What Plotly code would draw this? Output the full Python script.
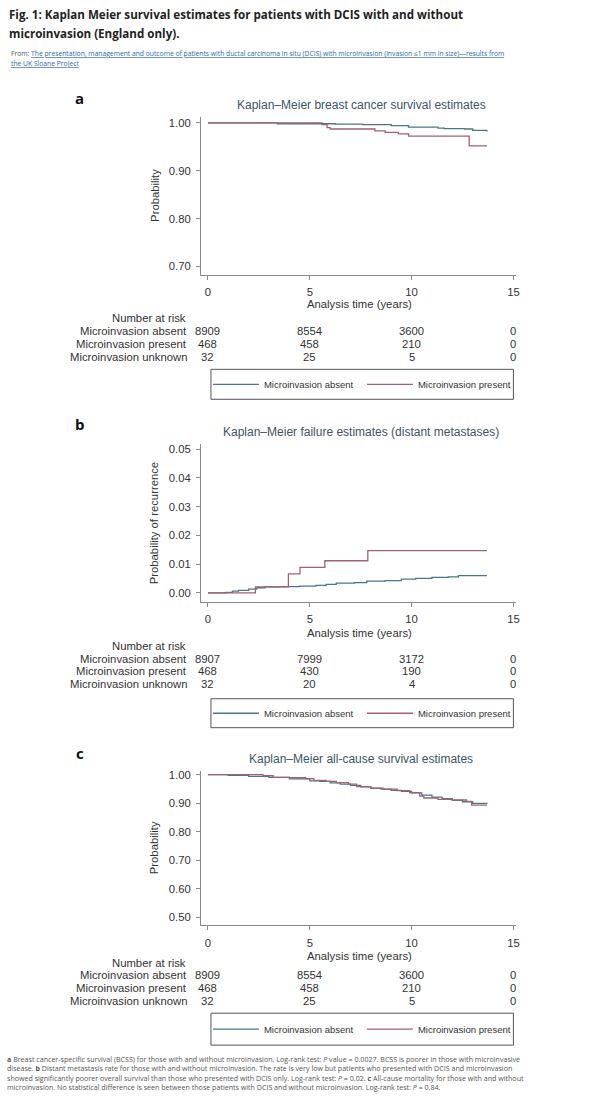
import plotly.graph_objects as go

W, H = 600, 1118
def px(x): return x / W
def py(y): return 1 - y / H

# ---------------- data ----------------
time_ticks = [0, 5, 10, 15]
group_names = ["Microinvasion absent", "Microinvasion present"]
risk_labels = ["Microinvasion absent", "Microinvasion present", "Microinvasion unknown"]

# panel a: breast cancer survival
a_abs_t = [0, 3.4, 6.25, 7.6, 9.0, 9.85, 11.3, 11.6, 12.6, 13.0, 13.7]
a_abs_s = [1.0, 0.998, 0.997, 0.996, 0.994, 0.991, 0.989, 0.988, 0.987, 0.984, 0.982]
a_pre_t = [0, 5.6, 5.85, 6.0, 8.2, 8.7, 9.35, 9.85, 12.83, 13.7]
a_pre_s = [1.0, 0.996, 0.990, 0.987, 0.983, 0.980, 0.977, 0.972, 0.952, 0.952]
risk_a_abs = [8909, 8554, 3600, 0]
risk_a_pre = [468, 458, 210, 0]
risk_a_unk = [32, 25, 5, 0]

# panel b: failure (distant metastases)
b_abs_t = [0, 0.9, 1.2, 1.5, 2.0, 2.4, 2.8, 3.5, 4.5, 5.3, 5.8, 6.3, 7.2, 7.8, 8.7, 9.5, 10.2, 11.0, 11.8, 12.3, 13.7]
b_abs_f = [0, 0.0002, 0.0006, 0.0009, 0.0013, 0.0018, 0.0021, 0.0022, 0.0024, 0.0026, 0.0030, 0.0034, 0.0036, 0.0041, 0.0043, 0.0048, 0.0051, 0.0054, 0.0056, 0.0060, 0.0060]
b_pre_t = [0, 2.33, 3.95, 4.52, 5.74, 7.85, 13.7]
b_pre_f = [0, 0.0021, 0.0066, 0.0089, 0.0112, 0.0147, 0.0147]
risk_b_abs = [8907, 7999, 3172, 0]
risk_b_pre = [468, 430, 190, 0]
risk_b_unk = [32, 20, 4, 0]

# panel c: all-cause survival
c_abs_t = [0, 1, 2, 3, 4, 5, 5.5, 6, 6.5, 7, 7.5, 8, 8.5, 9, 9.5, 10, 10.5, 11, 11.5, 12, 12.5, 13, 13.7]
c_abs_s = [1.0, 0.997, 0.994, 0.990, 0.985, 0.978, 0.976, 0.971, 0.967, 0.962, 0.957, 0.952, 0.949, 0.945, 0.941, 0.936, 0.928, 0.921, 0.916, 0.910, 0.905, 0.899, 0.898]
c_pre_t = [0, 2.7, 3.2, 4.0, 4.8, 5.2, 5.8, 6.3, 6.9, 7.3, 8.0, 8.6, 9.3, 9.9, 10.4, 10.6, 11.3, 12.0, 12.7, 12.95, 13.7]
c_pre_s = [1.0, 0.996, 0.990, 0.989, 0.986, 0.980, 0.976, 0.972, 0.967, 0.958, 0.953, 0.949, 0.944, 0.937, 0.925, 0.918, 0.913, 0.911, 0.906, 0.893, 0.893]
risk_c_abs = [8909, 8554, 3600, 0]
risk_c_pre = [468, 458, 210, 0]
risk_c_unk = [32, 25, 5, 0]

a_yticks = [0.70, 0.80, 0.90, 1.00]
b_yticks = [0.00, 0.01, 0.02, 0.03, 0.04, 0.05]
c_yticks = [0.50, 0.60, 0.70, 0.80, 0.90, 1.00]

panel_titles = ["Kaplan\u2013Meier breast cancer survival estimates",
                "Kaplan\u2013Meier failure estimates (distant metastases)",
                "Kaplan\u2013Meier all-cause survival estimates"]
y_titles = ["Probability", "Probability of recurrence", "Probability"]
x_title = "Analysis time (years)"

# ---------------- style ----------------
C_ABS = "#46788a"
C_PRE = "#a5606f"
STATA_FONT = "Liberation Sans, Arial, sans-serif"
WEB_FONT = "Open Sans, sans-serif"
TXT = "#333333"
AX = "#8a8a8a"
FS = 11.3

panels = [
    dict(curves=[(a_abs_t, a_abs_s), (a_pre_t, a_pre_s)], risk=[risk_a_abs, risk_a_pre, risk_a_unk],
         ydom=(115, 273), yrange=(0.6833, 1.0125), yticks=a_yticks,
         title_y=103, letter_y=96, xt_y=303, nar_y=317, rows=(330, 343, 356), box=(368, 398), legend="legend"),
    dict(curves=[(b_abs_t, b_abs_f), (b_pre_t, b_pre_f)], risk=[risk_b_abs, risk_b_pre, risk_b_unk],
         ydom=(443, 601), yrange=(-0.003125, 0.05174), yticks=b_yticks,
         title_y=431, letter_y=423, xt_y=632, nar_y=645, rows=(658, 670, 683), box=(698, 727), legend="legend2"),
    dict(curves=[(c_abs_t, c_abs_s), (c_pre_t, c_pre_s)], risk=[risk_c_abs, risk_c_pre, risk_c_unk],
         ydom=(770, 925), yrange=(0.472, 1.014), yticks=c_yticks,
         title_y=758, letter_y=752, xt_y=956, nar_y=963, rows=(975, 988, 1001), box=(1013, 1045), legend="legend3"),
]

fig = go.Figure()
annotations = []
shapes = []
layout = {}
letters = ["a", "b", "c"]

for i, p in enumerate(panels):
    xa = "x" if i == 0 else f"x{i+1}"
    ya = "y" if i == 0 else f"y{i+1}"
    xkey = "xaxis" if i == 0 else f"xaxis{i+1}"
    ykey = "yaxis" if i == 0 else f"yaxis{i+1}"
    for (t, v), name, col in zip(p["curves"], group_names, [C_ABS, C_PRE]):
        fig.add_trace(go.Scatter(x=t, y=v, mode="lines", line=dict(shape="hv", color=col, width=1.3),
                                 name=name, xaxis=xa, yaxis=ya, legend=p["legend"], showlegend=True,
                                 hoverinfo="skip"))
    layout[xkey] = dict(domain=[px(202), px(519)], range=[-0.342, 15.147], anchor=ya,
                        tickvals=time_ticks, ticks="outside", ticklen=4, tickcolor=AX,
                        showline=True, linecolor=AX, linewidth=1, showgrid=False, zeroline=False,
                        tickfont=dict(family=STATA_FONT, size=FS, color=TXT), ticklabelstandoff=3,
                        fixedrange=True)
    layout[ykey] = dict(domain=[py(p["ydom"][1]), py(p["ydom"][0])], range=list(p["yrange"]), anchor=xa,
                        tickvals=p["yticks"], tickformat=".2f", ticks="outside", ticklen=4, tickcolor=AX,
                        showline=True, linecolor=AX, linewidth=1, showgrid=False, zeroline=False,
                        tickfont=dict(family=STATA_FONT, size=FS, color=TXT), ticklabelstandoff=3,
                        fixedrange=True)
    # panel letter
    annotations.append(dict(text=f"<b>{letters[i]}</b>", x=px(80), y=py(p["letter_y"]), xref="paper", yref="paper",
                            showarrow=False, font=dict(family=WEB_FONT, size=15, color="#111"),
                            xanchor="center", yanchor="middle"))
    # panel title
    annotations.append(dict(text=panel_titles[i], x=px(363), y=py(p["title_y"]), xref="paper", yref="paper",
                            showarrow=False, font=dict(family=STATA_FONT, size=12, color="#3d5566"),
                            xanchor="center", yanchor="middle"))
    # axis titles
    annotations.append(dict(text=x_title, x=px(361), y=py(p["xt_y"]), xref="paper", yref="paper",
                            showarrow=False, font=dict(family=STATA_FONT, size=FS, color=TXT),
                            xanchor="center", yanchor="middle"))
    annotations.append(dict(text=y_titles[i], x=px(155), y=py((p["ydom"][0] + p["ydom"][1]) / 2),
                            xref="paper", yref="paper", textangle=-90,
                            showarrow=False, font=dict(family=STATA_FONT, size=FS, color=TXT),
                            xanchor="center", yanchor="middle"))
    # number at risk
    annotations.append(dict(text="Number at risk", x=px(189), y=py(p["nar_y"]), xref="paper", yref="paper",
                            showarrow=False, font=dict(family=STATA_FONT, size=FS, color=TXT),
                            xanchor="right", yanchor="middle"))
    for lab, row, yy in zip(risk_labels, p["risk"], p["rows"]):
        annotations.append(dict(text=lab, x=px(190), y=py(yy), xref="paper", yref="paper",
                                showarrow=False, font=dict(family=STATA_FONT, size=FS, color=TXT),
                                xanchor="right", yanchor="middle"))
        for t, n in zip(time_ticks, row):
            annotations.append(dict(text=str(n), x=t, y=py(yy), xref=xa, yref="paper",
                                    showarrow=False, font=dict(family=STATA_FONT, size=FS, color=TXT),
                                    xanchor="center", yanchor="middle"))
    # legend box
    b0, b1 = p["box"]
    shapes.append(dict(type="rect", xref="paper", yref="paper", x0=px(212), x1=px(516), y0=py(b1), y1=py(b0),
                       line=dict(color="#555", width=1), fillcolor="rgba(0,0,0,0)"))
    layout[p["legend"]] = dict(orientation="h", x=px(209), y=py((b0 + b1) / 2), xanchor="left", yanchor="middle",
                               bgcolor="rgba(0,0,0,0)", borderwidth=0, entrywidth=93, entrywidthmode="pixels",
                               itemwidth=46,
                               font=dict(family=STATA_FONT, size=9.5, color=TXT))

# header
annotations.append(dict(text="<b>Fig. 1: Kaplan Meier survival estimates for patients with DCIS with and without</b>",
                        x=px(7), y=py(13), xref="paper", yref="paper", showarrow=False,
                        font=dict(family=WEB_FONT, size=11.6, color="#222"), xanchor="left", yanchor="middle"))
annotations.append(dict(text="<b>microinvasion (England only).</b>",
                        x=px(7), y=py(32), xref="paper", yref="paper", showarrow=False,
                        font=dict(family=WEB_FONT, size=11.6, color="#222"), xanchor="left", yanchor="middle"))
LINK = "#2d6a9f"
annotations.append(dict(text="From: <span style='color:" + LINK + "'><u>The presentation, management and outcome of patients with ductal carcinoma in situ (DCIS) with microinvasion (invasion \u22641 mm in size)\u2014results from</u></span>",
                        x=px(9), y=py(52), xref="paper", yref="paper", showarrow=False,
                        font=dict(family=WEB_FONT, size=6.75, color="#555"), xanchor="left", yanchor="middle"))
annotations.append(dict(text="<span style='color:" + LINK + "'><u>the UK Sloane Project</u></span>",
                        x=px(9), y=py(62), xref="paper", yref="paper", showarrow=False,
                        font=dict(family=WEB_FONT, size=6.75, color="#555"), xanchor="left", yanchor="middle"))

foot_lines = [
    "<b>a</b> Breast cancer-specific survival (BCSS) for those with and without microinvasion. Log-rank test: <i>P</i> value = 0.0027. BCSS is poorer in those with microinvasive",
    "disease. <b>b</b> Distant metastasis rate for those with and without microinvasion. The rate is very low but patients who presented with DCIS and microinvasion",
    "showed significantly poorer overall survival than those who presented with DCIS only. Log-rank test: <i>P</i> = 0.02. <b>c</b> All-cause mortality for those with and without",
    "microinvasion. No statistical difference is seen between those patients with DCIS and without microinvasion. Log-rank test: <i>P</i> = 0.84.",
]
for k, (line, yy) in enumerate(zip(foot_lines, [1059, 1068, 1078, 1087])):
    annotations.append(dict(text=line, x=px(5), y=py(yy), xref="paper", yref="paper", showarrow=False,
                            font=dict(family=WEB_FONT, size=7.1, color="#555"), xanchor="left", yanchor="middle"))

fig.update_layout(width=W, height=H, margin=dict(l=0, r=0, t=0, b=0), paper_bgcolor="white",
                  plot_bgcolor="white", annotations=annotations, shapes=shapes, **layout)
fig.write_html("out.html", config={"displayModeBar": False},
               post_script="document.body.style.margin='0';document.body.style.padding='0';")
